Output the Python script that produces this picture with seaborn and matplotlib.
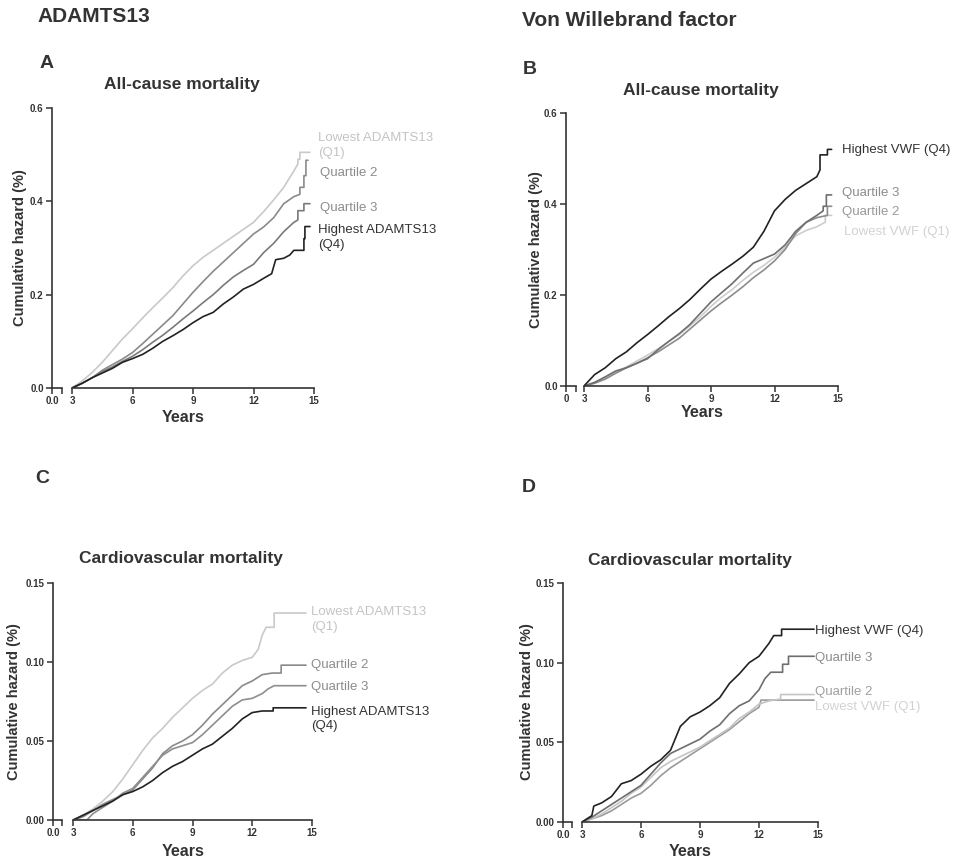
import matplotlib
matplotlib.use("Agg")
import matplotlib.pyplot as plt
import seaborn as sns
import pandas as pd

# ---- data (cumulative hazard vs years) ----
GRID = [3, 3.5, 4, 4.5, 5, 5.5, 6, 6.5, 7, 7.5, 8, 8.5, 9, 9.5, 10, 10.5,
        11, 11.5, 12, 12.5, 13, 13.5, 14]

# A: ADAMTS13, all-cause mortality
A_Q1_T = GRID + [14.2, 14.2, 14.3, 14.3, 14.8]
A_Q1_Y = [0, .015, .033, .055, .08, .105, .127, .15, .172, .193, .215, .24, .262, .28, .295, .31,
          .325, .34, .355, .378, .403, .43, .465, .48, .49, .49, .505, .505]
A_Q2_T = GRID + [14.3, 14.3, 14.5, 14.5, 14.6, 14.6, 14.7]
A_Q2_Y = [0, .01, .022, .038, .05, .062, .076, .095, .115, .135, .155, .18, .205, .228, .25, .27,
          .29, .31, .33, .345, .365, .395, .41, .415, .43, .43, .455, .455, .488, .488]
A_Q3_T = GRID + [14.2, 14.2, 14.5, 14.5, 14.8]
A_Q3_Y = [0, .01, .022, .035, .045, .057, .068, .082, .098, .113, .13, .148, .165, .183, .2, .22,
          .238, .252, .265, .29, .31, .335, .355, .36, .38, .38, .395, .395]
A_Q4_T = [3, 3.5, 4, 4.5, 5, 5.5, 6, 6.5, 7, 7.5, 8, 8.5, 9, 9.5, 10, 10.5, 11, 11.5, 12, 12.5,
          12.9, 13.1, 13.5, 13.8, 14.0, 14.5, 14.5, 14.55, 14.55, 14.8]
A_Q4_Y = [0, .01, .022, .032, .042, .055, .063, .072, .085, .1, .112, .125, .14, .153, .162, .18,
          .195, .212, .222, .235, .245, .275, .278, .285, .295, .295, .32, .32, .346, .346]

# B: VWF, all-cause mortality
B_Q4_T = GRID + [14.15, 14.15, 14.5, 14.5, 14.7]
B_Q4_Y = [0, .025, .04, .06, .075, .095, .113, .132, .152, .17, .19, .213, .235, .252, .268, .285,
          .305, .34, .385, .41, .43, .445, .46, .475, .508, .508, .52, .52]
B_Q3_T = GRID + [14.3, 14.3, 14.45, 14.45, 14.7]
B_Q3_Y = [0, .008, .02, .033, .04, .05, .06, .08, .098, .115, .135, .16, .185, .205, .225, .248,
          .27, .28, .29, .31, .34, .36, .375, .385, .395, .395, .42, .42]
B_Q2_T = GRID + [14.5, 14.5, 14.7]
B_Q2_Y = [0, .006, .015, .028, .04, .05, .062, .075, .09, .105, .125, .145, .165, .183, .2, .218,
          .238, .255, .275, .3, .335, .36, .37, .375, .395, .395]
B_Q1_T = GRID + [14.4, 14.4, 14.7]
B_Q1_Y = [0, .007, .018, .03, .042, .055, .068, .082, .097, .113, .132, .152, .175, .195, .212, .232,
          .25, .265, .283, .305, .33, .342, .35, .36, .375, .375]

# C: ADAMTS13, cardiovascular mortality
C_Q1_T = GRID[:19] + [12.3, 12.5, 12.7, 13.1, 13.1, 14.7]
C_Q1_Y = [0, .003, .007, .012, .018, .026, .035, .044, .052, .058, .065, .071, .077, .082, .086, .093,
          .098, .101, .103, .108, .117, .122, .122, .131, .131]
C_Q2_T = GRID[:21] + [13.45, 13.45, 14.7]
C_Q2_Y = [0, .002, .006, .01, .013, .016, .019, .026, .033, .042, .047, .05, .054, .06, .067, .073,
          .079, .085, .088, .092, .093, .093, .098, .098]
C_Q3_T = [3, 3.5, 3.7, 4, 4.5, 5, 5.5, 6, 6.5, 7, 7.5, 8, 8.5, 9, 9.5, 10, 10.5, 11, 11.5, 12, 12.5,
          12.8, 13.1, 14.7]
C_Q3_Y = [0, 0, 0, .004, .008, .012, .017, .02, .027, .034, .041, .045, .047, .049, .054, .06, .066,
          .072, .076, .077, .08, .083, .085, .085]
C_Q4_T = GRID[:20] + [13.05, 13.05, 14.7]
C_Q4_Y = [0, .003, .006, .009, .012, .016, .018, .021, .025, .03, .034, .037, .041, .045, .048, .053,
          .058, .064, .068, .069, .069, .071, .071]

# D: VWF, cardiovascular mortality
D_Q4_T = [3, 3.5, 3.6, 4, 4.5, 5, 5.5, 6, 6.5, 7, 7.5, 8, 8.5, 9, 9.5, 10, 10.5, 11, 11.5, 12, 12.5,
          12.75, 13.15, 13.15, 14.8]
D_Q4_Y = [0, .004, .01, .012, .016, .024, .026, .03, .035, .039, .045, .06, .066, .069, .073, .078,
          .087, .093, .1, .104, .112, .117, .117, .121, .121]
D_Q3_T = GRID[:19] + [12.3, 12.6, 13.2, 13.2, 13.5, 13.5, 14.8]
D_Q3_Y = [0, .003, .007, .011, .015, .019, .023, .03, .037, .043, .046, .049, .052, .057, .061, .068,
          .073, .076, .083, .09, .094, .094, .099, .099, .104, .104]
D_Q2_T = GRID[:21] + [13.1, 13.1, 14.8]
D_Q2_Y = [0, .002, .005, .009, .013, .018, .022, .028, .034, .038, .041, .044, .047, .051, .055, .059,
          .065, .069, .074, .076, .077, .077, .08, .08]
D_Q1_T = GRID[:19] + [12.1, 14.8]
D_Q1_Y = [0, .002, .004, .007, .011, .015, .018, .023, .029, .034, .038, .042, .046, .05, .054, .058,
          .063, .068, .072, .0765, .0765]

W, H = 955, 860
DARK = "#333333"

sns.set_style("ticks")
plt.rcParams["font.family"] = ["Liberation Sans", "DejaVu Sans"]
plt.rcParams["axes.edgecolor"] = DARK
plt.rcParams["axes.linewidth"] = 1.2

fig = plt.figure(figsize=(W / 100, H / 100), dpi=100)


def rect(x0, x1, y0, y1):
    return [x0 / W, 1 - y1 / H, (x1 - x0) / W, (y1 - y0) / H]


def ftext(x, y, s, **kw):
    fig.text(x / W, 1 - y / H, s, **kw)


def panel(box, ylim, yticks, ylabels, zero_lab, series, labels):
    # broken x axis: short stub at 0, then 3..15
    sx0, sx1, mx0, mx1, y0, y1 = box
    ax_s = fig.add_axes(rect(sx0, sx1, y0, y1))
    ax = fig.add_axes(rect(mx0, mx1, y0, y1), sharey=ax_s)

    frames = []
    for name, t, y, col in series:
        frames.append(pd.DataFrame({"years": t, "hazard": y, "group": name}))
    df = pd.concat(frames, ignore_index=True)
    pal = {name: col for name, _, _, col in series}
    sns.lineplot(data=df, x="years", y="hazard", hue="group", palette=pal,
                 estimator=None, sort=False, linewidth=1.2, legend=False, ax=ax)

    ax_s.set_xlim(0, 1)
    ax_s.set_xticks([0, 1])
    ax_s.set_xticklabels([zero_lab, ""])
    ax_s.set_ylim(*ylim)
    ax_s.set_yticks(yticks)
    ax_s.set_yticklabels(ylabels)
    for s in ["top", "right"]:
        ax_s.spines[s].set_visible(False)

    ax.set_xlim(3, 15)
    ax.set_xticks([3, 6, 9, 12, 15])
    ax.set_xticklabels(["3", "6", "9", "12", "15"])
    for s in ["top", "right", "left"]:
        ax.spines[s].set_visible(False)
    ax.tick_params(axis="y", left=False, labelleft=False)
    ax.set_xlabel("")
    ax.set_ylabel("")

    for a in (ax, ax_s):
        a.tick_params(direction="out", length=4, width=1.1, color=DARK,
                      labelsize=7, labelcolor=DARK, pad=2)
        for lbl in a.get_xticklabels() + a.get_yticklabels():
            lbl.set_fontweight("bold")

    for x, y, s, col in labels:
        ax.text(x, y, s, color=col, fontsize=9.5, va="center", ha="left",
                clip_on=False, linespacing=1.3)
    return ax


# colours
Q1C, Q2C, Q3C, Q4C = "#c9c9c9", "#8a8a8a", "#7a7a7a", "#222222"

# Panel A
panel((52, 62, 72, 314, 108, 388), (0, 0.6), [0, 0.2, 0.4, 0.6],
      ["0.0", "0.2", "0.4", "0.6"], "0.0",
      [("Q1", A_Q1_T, A_Q1_Y, Q1C), ("Q2", A_Q2_T, A_Q2_Y, Q2C),
       ("Q3", A_Q3_T, A_Q3_Y, Q3C), ("Q4", A_Q4_T, A_Q4_Y, Q4C)],
      [(15.2, 0.52, "Lowest ADAMTS13\n(Q1)", "#c4c4c4"),
       (15.3, 0.461, "Quartile 2", "#8c8c8c"),
       (15.3, 0.386, "Quartile 3", "#8c8c8c"),
       (15.2, 0.322, "Highest ADAMTS13\n(Q4)", "#333333")])

# Panel B
panel((566, 576, 584, 838, 113, 386), (0, 0.6), [0, 0.2, 0.4, 0.6],
      ["0.0", "0.2", "0.4", "0.6"], "0",
      [("Q1", B_Q1_T, B_Q1_Y, "#cdcdcd"), ("Q2", B_Q2_T, B_Q2_Y, "#8c8c8c"),
       ("Q3", B_Q3_T, B_Q3_Y, "#6e6e6e"), ("Q4", B_Q4_T, B_Q4_Y, Q4C)],
      [(15.2, 0.519, "Highest VWF (Q4)", "#333333"),
       (15.2, 0.424, "Quartile 3", "#8c8c8c"),
       (15.2, 0.382, "Quartile 2", "#999999"),
       (15.3, 0.338, "Lowest VWF (Q1)", "#d2d2d2")])

# Panel C
panel((53, 62, 73, 312, 583, 820), (0, 0.15), [0, 0.05, 0.10, 0.15],
      ["0.00", "0.05", "0.10", "0.15"], "0.0",
      [("Q1", C_Q1_T, C_Q1_Y, Q1C), ("Q2", C_Q2_T, C_Q2_Y, Q2C),
       ("Q3", C_Q3_T, C_Q3_Y, "#8e8e8e"), ("Q4", C_Q4_T, C_Q4_Y, Q4C)],
      [(14.95, 0.127, "Lowest ADAMTS13\n(Q1)", "#c4c4c4"),
       (14.95, 0.098, "Quartile 2", "#8c8c8c"),
       (14.95, 0.084, "Quartile 3", "#8c8c8c"),
       (14.95, 0.064, "Highest ADAMTS13\n(Q4)", "#333333")])

# Panel D
panel((563, 572, 582, 818, 583, 822), (0, 0.15), [0, 0.05, 0.10, 0.15],
      ["0.00", "0.05", "0.10", "0.15"], "0.0",
      [("Q1", D_Q1_T, D_Q1_Y, "#9a9a9a"), ("Q2", D_Q2_T, D_Q2_Y, "#c4c4c4"),
       ("Q3", D_Q3_T, D_Q3_Y, "#6e6e6e"), ("Q4", D_Q4_T, D_Q4_Y, Q4C)],
      [(14.85, 0.120, "Highest VWF (Q4)", "#333333"),
       (14.85, 0.103, "Quartile 3", "#8c8c8c"),
       (14.85, 0.0816, "Quartile 2", "#a0a0a0"),
       (14.85, 0.072, "Lowest VWF (Q1)", "#d2d2d2")])

# headings, panel letters, titles, axis labels
ftext(37, 17, "ADAMTS13", fontsize=15, fontweight="bold", color=DARK, va="center")
ftext(522, 21, "Von Willebrand factor", fontsize=15, fontweight="bold", color=DARK, va="center")
for x, y, s in [(40, 63, "A"), (523, 69, "B"), (35, 478, "C"), (522, 487, "D")]:
    ftext(x, y, s, fontsize=14, fontweight="bold", color=DARK, va="center")

for x, y, s in [(182, 85, "All-cause mortality"), (701, 90, "All-cause mortality"),
                (181, 558, "Cardiovascular mortality"), (690, 561, "Cardiovascular mortality")]:
    ftext(x, y, s, fontsize=12.5, fontweight="bold", color=DARK, ha="center", va="center")

for x, y in [(20, 248), (536, 250), (14, 702), (527, 702)]:
    ftext(x, y, "Cumulative hazard (%)", fontsize=10.5, fontweight="bold", color=DARK,
          ha="center", va="center", rotation=90)

for x, y in [(183, 417), (702, 413), (183, 851), (690, 851)]:
    ftext(x, y, "Years", fontsize=11.5, fontweight="bold", color=DARK, ha="center", va="center")

fig.savefig("out.png", dpi=100, facecolor="white")
